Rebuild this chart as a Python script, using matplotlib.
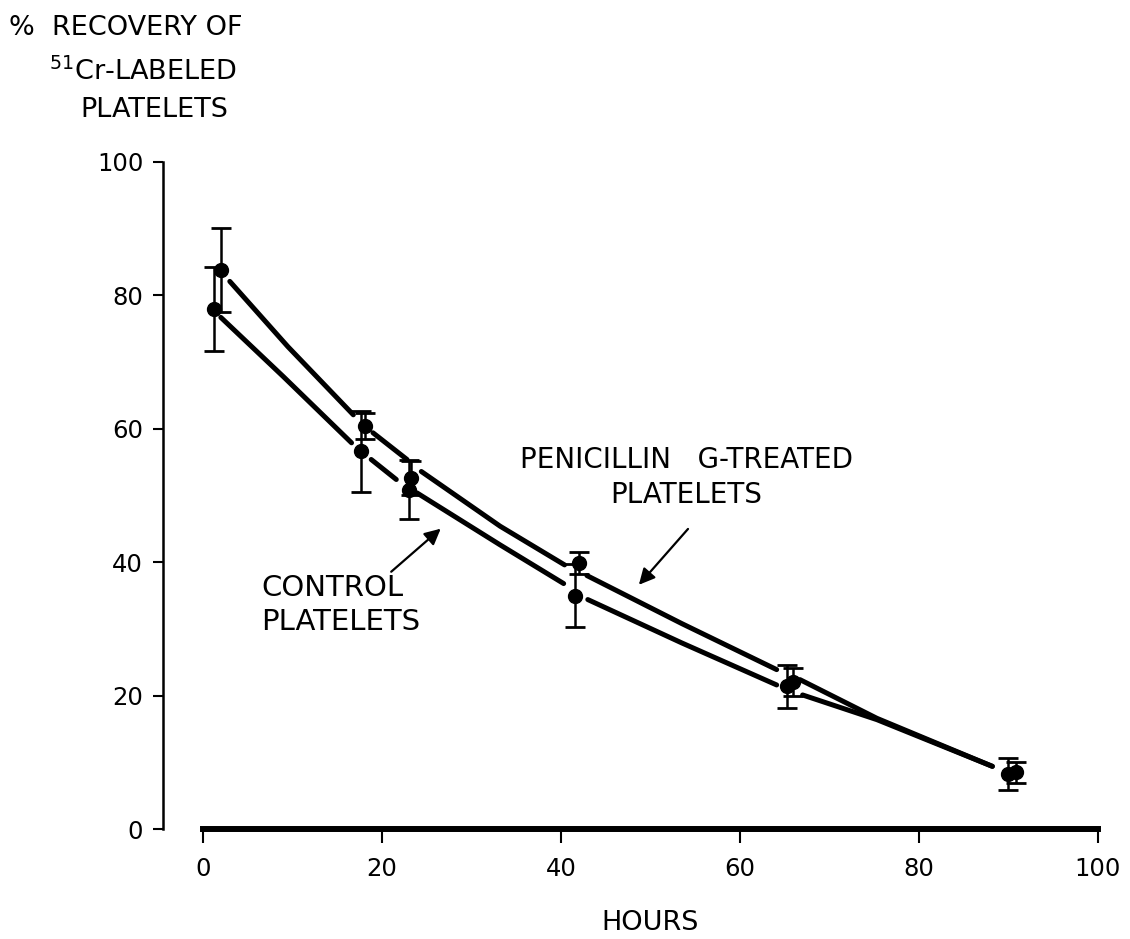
import matplotlib.pyplot as plt
import numpy as np

plt.rcParams['font.family'] = 'DejaVu Sans'
plt.rcParams['mathtext.default'] = 'regular'

# measured points (hours, % recovery, error)
pen_x = [2.0, 18.1, 23.3, 42.0, 65.9, 90.8]
pen_y = [83.8, 60.4, 52.6, 39.9, 22.0, 8.5]
pen_err = [6.3, 2.0, 2.5, 1.6, 2.1, 1.6]

ctl_x = [1.2, 17.7, 23.0, 41.6, 65.3, 90.0]
ctl_y = [77.9, 56.6, 50.9, 35.0, 21.4, 8.3]
ctl_err = [6.3, 6.0, 4.4, 4.7, 3.2, 2.4]

# fitted curves, drawn as pieces between the dots
pen_curve = [
    ([3.0, 9.5, 16.8], [82.1, 72.3, 62.1]),
    ([19.0, 22.8], [59.4, 55.4]),
    ([24.4, 33.2, 40.4], [53.6, 45.4, 39.6]),
    ([42.9, 53.5, 64.1], [38.0, 30.8, 23.9]),
    ([66.7, 75.3, 88.2], [22.4, 16.6, 9.4]),
]
ctl_curve = [
    ([2.0, 9.0, 16.6], [76.7, 67.8, 57.9]),
    ([18.8, 21.6], [55.4, 52.4]),
    ([23.9, 33.2, 40.3], [50.4, 42.6, 36.8]),
    ([43.0, 53.5, 64.1], [34.4, 27.9, 21.6]),
    ([67.0, 75.3, 88.2], [20.1, 16.4, 9.4]),
]

fig = plt.figure(figsize=(11.3, 9.39), dpi=100)
ax = fig.add_axes([0.1400, 0.1100, 0.8475, 0.7246])
ax.set_xlim(-5, 102)
ax.set_ylim(-1, 101)

for cx, cy in pen_curve + ctl_curve:
    ax.plot(cx, cy, color='black', linewidth=3.6, solid_capstyle='round')

ax.errorbar(pen_x, pen_y, yerr=pen_err, fmt='o', color='black', markersize=10,
            elinewidth=1.8, capsize=7, capthick=2)
ax.errorbar(ctl_x, ctl_y, yerr=ctl_err, fmt='o', color='black', markersize=10,
            elinewidth=1.8, capsize=7, capthick=2)

ax.text(54.0, 52.7, 'PENICILLIN   G-TREATED\nPLATELETS', ha='center', va='center',
        fontsize=20, linespacing=1.3)
ax.annotate('', xy=(48.5, 36.3), xytext=(54.4, 45.3),
            arrowprops=dict(arrowstyle='-|>', color='black', lw=1.6, mutation_scale=24))

ax.text(6.5, 33.6, 'CONTROL\nPLATELETS', ha='left', va='center',
        fontsize=21, linespacing=1.25)
ax.annotate('', xy=(26.8, 45.3), xytext=(20.8, 38.3),
            arrowprops=dict(arrowstyle='-|>', color='black', lw=1.6, mutation_scale=24))

for s in ['top', 'right']:
    ax.spines[s].set_visible(False)
ax.spines['left'].set_position(('data', -4.5))
ax.spines['left'].set_bounds(0, 100)
ax.spines['left'].set_linewidth(1.8)
ax.spines['bottom'].set_position(('data', 0))
ax.spines['bottom'].set_bounds(0, 100)
ax.spines['bottom'].set_linewidth(4.3)

ax.set_xticks([0, 20, 40, 60, 80, 100])
ax.set_yticks([0, 20, 40, 60, 80, 100])
ax.tick_params(axis='y', direction='out', length=7, width=1.5, pad=7, labelsize=17.5)
ax.tick_params(axis='x', direction='out', length=10, width=1.5, pad=10, labelsize=17.5)

fig.text(0.575, 0.017, 'HOURS', ha='center', va='center', fontsize=19.5)
fig.text(0.008, 0.970, '%  RECOVERY OF', ha='left', va='center', fontsize=19.5)
fig.text(0.043, 0.924, '$^{51}$Cr-LABELED', ha='left', va='center', fontsize=19.5)
fig.text(0.071, 0.883, 'PLATELETS', ha='left', va='center', fontsize=19.5)

plt.savefig('out.png', dpi=100)
